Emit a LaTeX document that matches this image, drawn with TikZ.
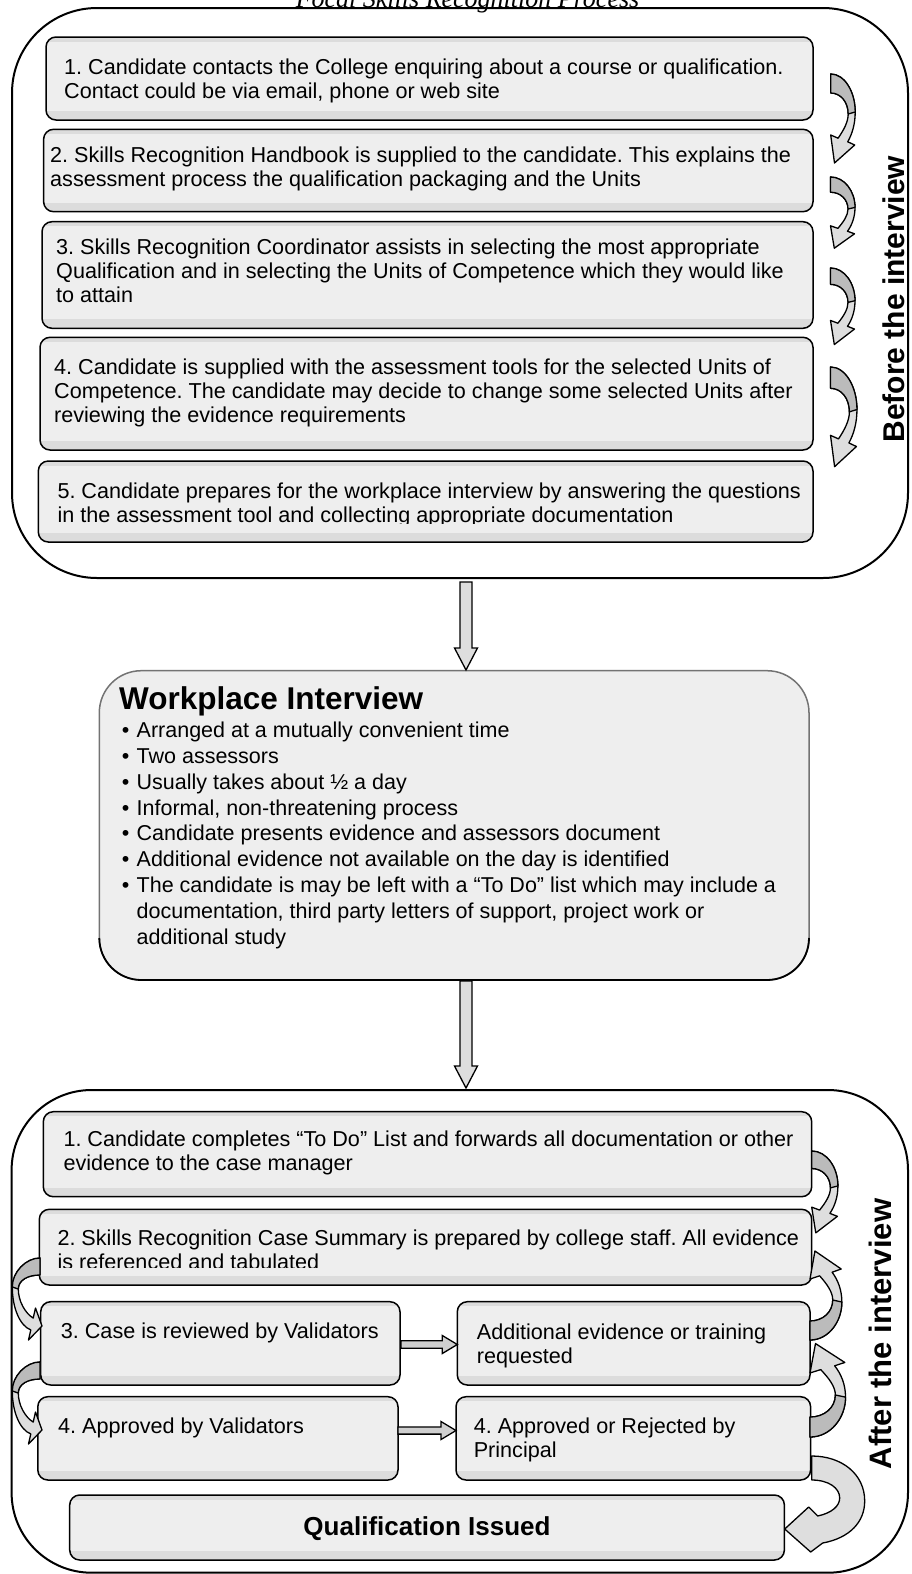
\documentclass[tikz,border=0pt]{standalone}
\usepackage{fontspec}
\setmainfont{Liberation Sans}
\newfontfamily\titleserif{Liberation Serif}
\usetikzlibrary{fit}
\frenchspacing
\definecolor{boxfill}{HTML}{EEEEEE}
\definecolor{boxband}{HTML}{DCDCDC}
\definecolor{arrlightc}{HTML}{DEDEDE}
\definecolor{arrdarkc}{HTML}{BBBBBB}
\definecolor{hblockc}{HTML}{CFCFCF}
\tikzset{
  boxline/.style={draw=black, line width=1.5pt, rounded corners=10pt},
  container/.style={draw=black, line width=2pt, rounded corners=85pt},
  arrlight/.style={fill=arrlightc, draw=black, line width=1.3pt, line join=round},
  arrdark/.style={fill=arrdarkc, draw=black, line width=1.3pt, line join=round},
  vblockst/.style={fill=arrlightc, draw=black, line width=1.3pt},
  hblockst/.style={fill=hblockc, draw=black, line width=1.3pt},
  bodytext/.style={anchor=base west, inner sep=0pt, font=\fontsize{21.6pt}{24pt}\selectfont},
  shapeT/.style={insert path={(0,0) .. controls (14,0) and (24.5,18) .. (24.5,38)
      .. controls (24.5,50) and (21.5,60) .. (17,67.8) -- (24,71) -- (3.8,89) -- (0,61) -- (7.4,64.2)
      .. controls (13,56) and (17.5,48) .. (17.5,40) .. controls (17.5,28) and (10,19) .. (0,19) -- cycle}},
  shapeTd/.style={insert path={(0,0) .. controls (14,0) and (24.5,18) .. (24.5,38) -- (17.5,40)
      .. controls (17.5,28) and (10,19) .. (0,19) -- cycle}},
  shapeL/.style={insert path={(0,0) .. controls (14,0) and (27.7,14) .. (27.7,29)
      .. controls (27.7,50) and (20,68) .. (9.2,71.9) -- (11.5,82) -- (-2,68) -- (4.5,50) -- (6.8,60.1)
      .. controls (15,55) and (21.7,43) .. (21.7,31) .. controls (21.7,22) and (12,17) .. (0,17) -- cycle}},
  shapeLd/.style={insert path={(0,0) .. controls (14,0) and (27.7,14) .. (27.7,29) -- (21.7,31)
      .. controls (21.7,22) and (12,17) .. (0,17) -- cycle}},
  shapeB/.style={insert path={(0,0) .. controls (30,0) and (53,18) .. (53,45)
      .. controls (53,66) and (38,82) .. (11,87) -- (-1,96) -- (-27,73) -- (-3,51) -- (6,60)
      .. controls (20,57) and (28,50) .. (28,42) .. controls (28,32) and (17,24) .. (0,24) -- cycle}},
}
\newcommand\stepbox[5]{%
  \begin{scope}
    \clip[rounded corners=10pt] (#2,#3) rectangle (#4,#5);
    \fill[boxfill] (#2,#3) rectangle (#4,#5);
    \fill[boxband] (#2,#3) rectangle (#4,#3+4.5);
    \fill[boxband] (#2,#5-9) rectangle (#4,#5);
  \end{scope}
  \draw[boxline] (#2,#3) rectangle (#4,#5);
  \coordinate (#1-nw) at (#2,#3);
  \coordinate (#1-se) at (#4,#5);
  \node[fit=(#1-nw)(#1-se), inner sep=0pt] (#1) {};
}
\newcommand\btext[4]{\node[bodytext] (#1) at (#2,#3) {\parbox[t]{800pt}{\raggedright #4}};}
\newcommand\curv[2]{\begin{scope}[#2]\path[arrlight, shape#1];\path[arrdark, shape#1d];\end{scope}}
\newcommand\vblock[3]{\path[vblockst] (#1-6,#2) -- (#1+6,#2) -- (#1+6,#3-22) -- (#1+11.5,#3-22) -- (#1,#3) -- (#1-11.5,#3-22) -- (#1-6,#3-22) -- cycle;}
\newcommand\hblock[4]{\path[hblockst] (#1,#3-#4) -- (#2-15,#3-#4) -- (#2-15,#3-9) -- (#2,#3) -- (#2-15,#3+9) -- (#2-15,#3+#4) -- (#1,#3+#4) -- cycle;}

\begin{document}
\begin{tikzpicture}[x=1pt,y=-1pt]
\useasboundingbox (0,0) rectangle (911,1574);

% title (cut at top)
\node[font=\titleserif\itshape\fontsize{26pt}{30pt}\selectfont, anchor=base, inner sep=0pt] (title) at (467.5,7) {Focal Skills Recognition Process};

% ---------- top container ----------
\draw[container] (12,8) rectangle (908,578);

\stepbox{b1}{46}{37}{813}{120}
\btext{t1}{64}{74}{1. Candidate contacts the College enquiring about a course or qualification.\\Contact could be via email, phone or web site}
\stepbox{b2}{43.6}{129.3}{813}{211.7}
\btext{t2}{50}{162}{2. Skills Recognition Handbook is supplied to the candidate. This explains the\\assessment process the qualification packaging and the Units}
\stepbox{b3}{42}{221.7}{813}{328.3}
\btext{t3}{56}{254}{3. Skills Recognition Coordinator assists in selecting the most appropriate\\Qualification and in selecting the Units of Competence which they would like\\to attain}
\stepbox{b4}{40}{337.3}{813}{450}
\btext{t4}{54}{374}{4. Candidate is supplied with the assessment tools for the selected Units of\\Competence. The candidate may decide to change some selected Units after\\reviewing the evidence requirements}
\stepbox{b5}{38.3}{461}{813}{542}
\begin{scope}
  \clip (38,461) rectangle (813,523.5);
  \btext{t5}{57.3}{498}{5. Candidate prepares for the workplace interview by answering the questions\\in the assessment tool and collecting appropriate documentation}
\end{scope}

\curv{T}{shift={(830.7,74)}}
\curv{T}{shift={(830.5,177)}, yscale=0.8}
\curv{T}{shift={(830.5,268)}, yscale=0.86}
\curv{T}{shift={(830.5,367)}, xscale=1.08, yscale=1.12}

\node[rotate=90, anchor=base, inner sep=0pt, font=\bfseries\fontsize{30pt}{36pt}\selectfont] (before) at (904,299) {Before the interview};

% ---------- workplace interview ----------
\path[fill=boxfill, draw=black!55, line width=1.5pt, rounded corners=42pt] (99.3,670.7) rectangle (809,980);
\draw[black, line width=1.8pt, rounded corners=42pt] (99.3,938) -- (99.3,980) -- (809,980) -- (809,938);
\coordinate (wp-nw) at (99.3,670.7);
\coordinate (wp-se) at (809,980);
\node[fit=(wp-nw)(wp-se), inner sep=0pt] (wp) {};
\node[anchor=base west, inner sep=0pt, font=\bfseries\fontsize{31.5pt}{36pt}\selectfont] (wptitle) at (119,709) {Workplace Interview};
\node[anchor=base west, inner sep=0pt] (wplist) at (121.7,737.3) {\parbox[t]{700pt}{\fontsize{21.5pt}{25.9pt}\selectfont\raggedright
\makebox[14.8pt][l]{•}Arranged at a mutually convenient time\\
\makebox[14.8pt][l]{•}Two assessors\\
\makebox[14.8pt][l]{•}Usually takes about ½ a day\\
\makebox[14.8pt][l]{•}Informal, non-threatening process\\
\makebox[14.8pt][l]{•}Candidate presents evidence and assessors document\\
\makebox[14.8pt][l]{•}Additional evidence not available on the day is identified\\
\makebox[14.8pt][l]{•}The candidate is may be left with a “To Do” list which may include a\\
\hspace*{14.8pt}documentation, third party letters of support, project work or\\
\hspace*{14.8pt}additional study}};

% vertical block arrows
\vblock{466}{582}{670}
\vblock{466}{981}{1088}

% ---------- bottom container ----------
\draw[container, rounded corners=80pt] (11.6,1090) rectangle (908,1572.7);

\stepbox{c1}{43.3}{1111.7}{811.7}{1196.7}
\btext{u1}{63.3}{1146.7}{1. Candidate completes “To Do” List and forwards all documentation or other\\evidence to the case manager}
\stepbox{c2}{39.3}{1209.3}{811.7}{1285}
\begin{scope}
  \clip (39,1209) rectangle (812,1267);
  \btext{u2}{57.3}{1245}{2. Skills Recognition Case Summary is prepared by college staff. All evidence\\is referenced and tabulated}
\end{scope}
\stepbox{c3}{40.7}{1301.7}{400}{1385}
\btext{u3}{60.7}{1338.3}{3. Case is reviewed by Validators}
\stepbox{c3b}{457.3}{1301.7}{810}{1385}
\btext{u3b}{476.7}{1339}{Additional evidence or training\\requested}
\stepbox{c4}{37.8}{1396.7}{398}{1480}
\btext{u4}{58}{1433.3}{4. Approved by Validators}
\stepbox{c4b}{456}{1396.7}{810.6}{1480}
\btext{u4b}{473.6}{1433.3}{4. Approved or Rejected by\\Principal}
\stepbox{c5}{69.7}{1495}{784.4}{1560}
\node[anchor=base, inner sep=0pt, font=\bfseries\fontsize{26pt}{30pt}\selectfont] (u5) at (427,1535) {Qualification Issued};

\hblock{401}{457.3}{1344.5}{3.8}
\hblock{398}{456}{1430.5}{3.6}

\curv{T}{shift={(811.7,1151)}, xscale=1.07, yscale=0.92}
\curv{T}{shift={(810,1340)}, xscale=1.3, yscale=-1}
\curv{T}{shift={(810,1437)}, xscale=1.45, yscale=-1.05}
\curv{L}{shift={(40,1258)}, xscale=-1}
\curv{L}{shift={(40,1362)}, xscale=-1}
\begin{scope}[shift={(811.7,1456)}]
  \path[arrlight, shapeB];
\end{scope}

\node[rotate=90, anchor=base, inner sep=0pt, font=\bfseries\fontsize{31pt}{36pt}\selectfont] (after) at (891,1334) {After the interview};
\end{tikzpicture}
\end{document}
